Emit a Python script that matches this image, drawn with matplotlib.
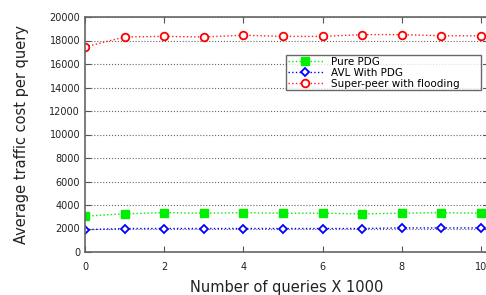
import matplotlib
matplotlib.use("Agg")
import matplotlib.pyplot as plt

x = [0, 1, 2, 3, 4, 5, 6, 7, 8, 9, 10]
pure_pdg = [3050, 3250, 3350, 3300, 3350, 3300, 3300, 3250, 3300, 3350, 3300]
avl_pdg = [1900, 2000, 2000, 2000, 2000, 2000, 2000, 2000, 2050, 2050, 2050]
super_peer = [17450, 18300, 18350, 18300, 18450, 18350, 18350, 18500, 18500, 18400, 18400]
yticks = [0, 2000, 4000, 6000, 8000, 10000, 12000, 14000, 16000, 18000, 20000]
xticks = [0, 2, 4, 6, 8, 10]

W = 404  # axes width in px (extends slightly past the figure edge)
fig = plt.figure(figsize=(4.86, 2.95), dpi=100)
ax = fig.add_axes([85/486, 1-252/295, W/486, 235/295])

ax.plot(x, pure_pdg, linestyle=':', color='#00ee00', marker='s', markersize=6,
        markerfacecolor='#00ee00', markeredgecolor='#00ee00', label='Pure PDG', lw=1)
ax.plot(x, avl_pdg, linestyle=':', color='blue', marker='D', markersize=4.2,
        markerfacecolor='white', markeredgecolor='blue', markeredgewidth=1.3, label='AVL With PDG', lw=1)
ax.plot(x, super_peer, linestyle=':', color='#ff2020', marker='o', markersize=5.5,
        markerfacecolor='white', markeredgecolor='red', markeredgewidth=1.3, label='Super-peer with flooding', lw=1)

ax.set_xlim(0, 10.2)
ax.set_ylim(0, 20000)
ax.set_xticks(xticks)
ax.set_yticks(yticks)
ax.tick_params(labelsize=7, direction='in', top=True, right=True, length=4,
               color='#555555', labelcolor='#222222')
ax.tick_params(axis='x', pad=7)
ax.yaxis.grid(True, linestyle=':', color='#666666', lw=0.8)
for s in ax.spines.values():
    s.set_color('#666666')
    s.set_linewidth(1.2)

ax.set_xlabel('Number of queries X 1000', fontsize=10.5, color='#222222')
ax.xaxis.set_label_coords(0.5, -0.118)
ax.set_ylabel('Average traffic cost per query', fontsize=10.5, labelpad=15, color='#222222')

leg = ax.legend(loc='upper left',
                bbox_to_anchor=(201/W, (252-96)/235, 195/W, 41/235),
                mode='expand', fontsize=7.5,
                frameon=True, fancybox=False, edgecolor='#444444', borderpad=0.15,
                labelspacing=0.1, handlelength=3.4, borderaxespad=0)
leg.get_frame().set_linewidth(1)

fig.savefig('out.png', dpi=100)
